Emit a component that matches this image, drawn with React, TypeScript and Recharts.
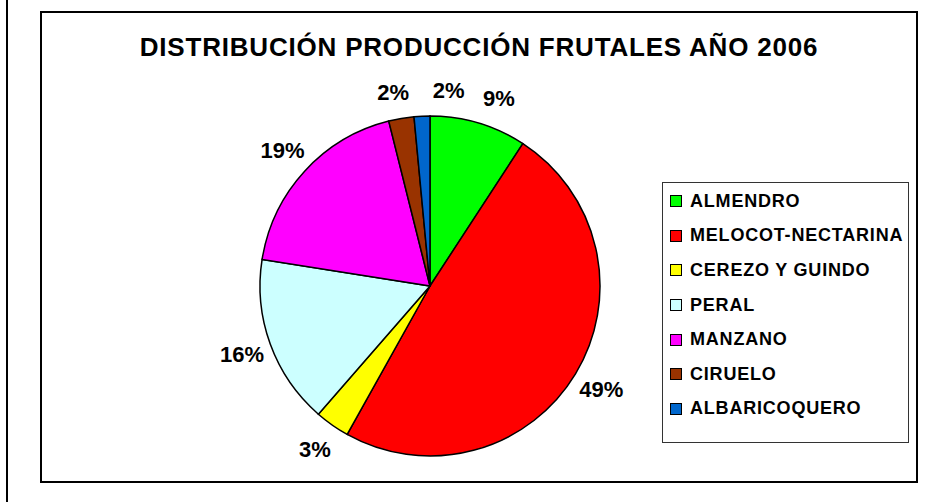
import { PieChart, Pie, Cell, Legend } from 'recharts'

const CATEGORIES = ['ALMENDRO', 'MELOCOT-NECTARINA', 'CEREZO Y GUINDO', 'PERAL', 'MANZANO', 'CIRUELO', 'ALBARICOQUERO']
const VALUES = [9.2, 48.9, 3.3, 16.1, 18.6, 2.4, 1.5]
const COLORS = ['#00ff00', '#ff0000', '#ffff00', '#ccffff', '#ff00ff', '#993300', '#0066cc']
const TITLE = 'DISTRIBUCIÓN PRODUCCIÓN FRUTALES AÑO 2006'

const data = CATEGORIES.map((name, i) => ({ name, value: VALUES[i] }))

const FONT = 'Arial, "Liberation Sans", sans-serif'
const RAD = Math.PI / 180
// small slices at the top get pushed apart, as Excel does
const LABEL_SHIFT = [12, 0, 0, 0, 0, -3, 28]

const renderLabel = (p: any) => {
  const r = p.outerRadius + 30
  const x = p.cx + r * Math.cos(-p.midAngle * RAD) + LABEL_SHIFT[p.index]
  const y = p.cy + r * Math.sin(-p.midAngle * RAD) + (p.index >= 5 || p.index === 0 ? 4 : 0)
  return (
    <text x={x} y={y} textAnchor="middle" dominantBaseline="central"
      fontFamily={FONT} fontWeight="bold" fontSize={22} fill="#000">
      {`${Math.round(p.percent * 100)}%`}
    </text>
  )
}

const renderLegend = () => (
  <div style={{ border: '1px solid #333', background: '#fff', width: 247, height: 261, boxSizing: 'border-box', padding: '0 0 0 7px' }}>
    {data.map((d, i) => (
      <div key={d.name} style={{ display: 'flex', alignItems: 'center', height: 34.6, marginTop: i === 0 ? 1 : 0 }}>
        <div style={{ width: 10, height: 10, border: '1px solid #000', background: COLORS[i], marginRight: 8, flexShrink: 0 }} />
        <span style={{ fontFamily: FONT, fontWeight: 'bold', fontSize: 18, letterSpacing: 0.8, color: '#000', whiteSpace: 'nowrap' }}>{d.name}</span>
      </div>
    ))}
  </div>
)

export default function App() {
  return (
    <div style={{ position: 'absolute', left: 0, top: 0, width: 937, height: 502, background: '#fff' }}>
      <div style={{ position: 'absolute', left: 6, top: 0, width: 2, height: 502, background: '#000' }} />
      <div style={{ position: 'absolute', left: 40, top: 11, width: 878, height: 472, border: '2px solid #000', boxSizing: 'border-box' }} />
      <div style={{ position: 'absolute', left: 40, top: 32, width: 878, textAlign: 'center', fontFamily: FONT, fontWeight: 'bold', fontSize: 26, letterSpacing: 0.8, lineHeight: '30px', color: '#000' }}>
        {TITLE}
      </div>
      <div style={{ position: 'absolute', left: 0, top: 0 }}>
        <PieChart width={937} height={502} margin={{ top: 0, right: 0, bottom: 0, left: 0 }}>
          <Pie
            data={data}
            dataKey="value"
            nameKey="name"
            cx={430}
            cy={286}
            outerRadius={170}
            startAngle={90}
            endAngle={-270}
            stroke="#000"
            strokeWidth={1.5}
            label={renderLabel}
            labelLine={false}
            isAnimationActive={false}
          >
            {data.map((_, i) => (
              <Cell key={i} fill={COLORS[i]} />
            ))}
          </Pie>
          <Legend
            content={renderLegend}
            layout="vertical"
            wrapperStyle={{ position: 'absolute', left: 662, top: 182, width: 247, height: 261 }}
          />
        </PieChart>
      </div>
    </div>
  )
}
